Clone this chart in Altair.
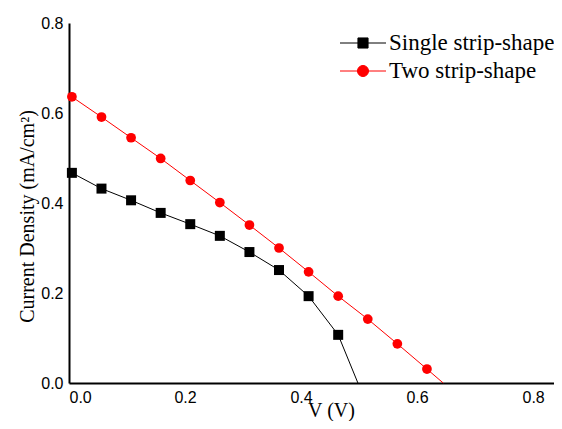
import altair as alt
import pandas as pd

series = ["Single strip-shape", "Two strip-shape"]
colors = ["#000000", "#ff0000"]

single_v = [0.005, 0.056, 0.107, 0.158, 0.209, 0.260, 0.311, 0.362, 0.413, 0.464]
single_j = [0.467, 0.432, 0.406, 0.378, 0.353, 0.327, 0.291, 0.251, 0.193, 0.107]
single_voc = 0.498

two_v = [0.005, 0.056, 0.107, 0.158, 0.209, 0.260, 0.311, 0.362, 0.413, 0.464, 0.515, 0.566, 0.617]
two_j = [0.636, 0.591, 0.545, 0.499, 0.450, 0.401, 0.351, 0.300, 0.247, 0.193, 0.142, 0.087, 0.031]
two_voc = 0.645

x_ticks = [0.0, 0.2, 0.4, 0.6, 0.8]
y_ticks = [0.0, 0.2, 0.4, 0.6, 0.8]

rows = []
for v, j in zip(single_v, single_j):
    rows.append({"series": series[0], "v": v, "j": j, "marker": True})
rows.append({"series": series[0], "v": single_voc, "j": 0.0, "marker": False})
for v, j in zip(two_v, two_j):
    rows.append({"series": series[1], "v": v, "j": j, "marker": True})
rows.append({"series": series[1], "v": two_voc, "j": 0.0, "marker": False})
df = pd.DataFrame(rows)

color_scale = alt.Scale(domain=series, range=colors)
# legend glyphs: a line segment with the series marker in the middle
shape_paths = [
    "M-2,0H2M-0.44,-0.44H0.44V0.44H-0.44Z",
    "M-2,0H2M-0.48,0A0.48,0.48,0,1,1,0.48,0A0.48,0.48,0,1,1,-0.48,0Z",
]

x_enc = alt.X("v:Q", scale=alt.Scale(domain=[0, 0.836], nice=False, zero=False),
              axis=alt.Axis(values=x_ticks, format=".1f", title="V (V)",
                            titleX=262, titleY=33, titleBaseline="alphabetic",
                            titleAlign="center"))
y_enc = alt.Y("j:Q", scale=alt.Scale(domain=[0, 0.8], nice=False),
              axis=alt.Axis(values=y_ticks, format=".1f",
                            title="Current Density (mA/cm²)",
                            titleX=-36, titleY=193, titleBaseline="alphabetic",
                            titleAlign="center"))

leg = alt.Legend(title=None, orient="none", legendX=282, legendY=8,
                 symbolSize=529, symbolStrokeWidth=1, symbolOpacity=1,
                 labelFont="Liberation Serif", labelFontSize=23, labelColor="black",
                 labelOffset=14, labelLimit=300, rowPadding=4)

base = alt.Chart(df)

line = base.mark_line(strokeWidth=1).encode(
    x=x_enc, y=y_enc,
    stroke=alt.Stroke("series:N", scale=color_scale, legend=leg),
    order="v:Q",
)

sq = base.transform_filter(alt.datum.marker).transform_filter(
    alt.datum.series == series[0]
).mark_point(shape="square", filled=True, size=100, opacity=1).encode(
    x=x_enc, y=y_enc,
    fill=alt.Fill("series:N", scale=color_scale, legend=leg),
)

ci = base.transform_filter(alt.datum.marker).transform_filter(
    alt.datum.series == series[1]
).mark_point(shape="circle", filled=True, size=95, opacity=1).encode(
    x=x_enc, y=y_enc,
    fill=alt.Fill("series:N", scale=color_scale, legend=leg),
)

legend_layer = base.transform_filter(alt.datum.marker).mark_point(
    filled=True, opacity=0
).encode(
    x=x_enc, y=y_enc,
    fill=alt.Fill("series:N", scale=color_scale, legend=leg),
    stroke=alt.Stroke("series:N", scale=color_scale, legend=leg),
    shape=alt.Shape("series:N", scale=alt.Scale(domain=series, range=shape_paths), legend=leg),
)

chart = alt.layer(line, sq, ci, legend_layer).properties(
    width=485, height=360,
    autosize=alt.AutoSizeParams(type="none"),
    padding={"left": 61, "top": 15, "right": 0, "bottom": 38},
).configure_view(stroke=None).configure_axis(
    domainColor="black", domainWidth=2, ticks=False, grid=False,
    labelFont="Liberation Sans", labelFontSize=16, labelColor="black", labelPadding=6,
    titleFont="Liberation Serif", titleFontSize=20, titleFontWeight="normal", titleColor="black",
).configure_legend(symbolOpacity=1)

chart.save("out.html", embed_options={"renderer": "svg", "actions": False})
